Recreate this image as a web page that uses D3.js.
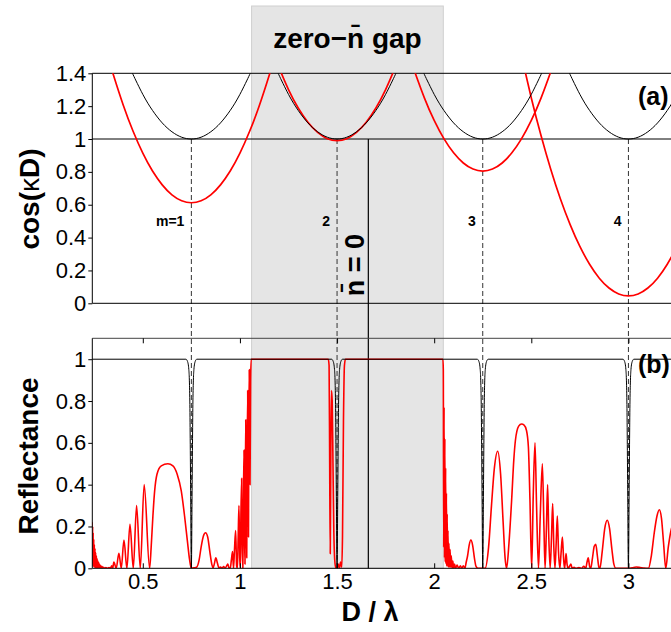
<!DOCTYPE html>
<html><head><meta charset="utf-8">
<script src="https://cdn.jsdelivr.net/npm/d3@7"></script>
<style>
body{margin:0;background:#fff}
svg{display:block}
text{font-family:"Liberation Sans",Arial,Helvetica,sans-serif}
</style>
</head><body>
<svg id="c" width="671" height="632"></svg>
<script>
// ---------------- data ----------------
const xTicks = [0.5, 1, 1.5, 2, 2.5, 3];
const cosTicks = [0, 0.2, 0.4, 0.6, 0.8, 1, 1.2, 1.4];
const refTicks = [0, 0.2, 0.4, 0.6, 0.8, 1];
const modeCenters = [0.75, 1.5, 2.25, 3.0];
const modeLabels = ["m=1", "2", "3", "4"];
const gapRange = [1.06, 2.047];
const nZero = 1.661;

// panel (a): cos(kD), black = reference stack, red = metamaterial stack
const cosBlack1 = [[0.44,1.419],[0.45,1.392],[0.5,1.272],[0.55,1.174],[0.6,1.098],[0.65,1.044],[0.7,1.011],[0.75,1.0],[0.8,1.011],[0.85,1.044],[0.9,1.098],[0.95,1.174],[1.0,1.272],[1.05,1.392],[1.06,1.419]];
const cosBlack2 = [[1.19,1.419],[1.2,1.392],[1.25,1.272],[1.3,1.174],[1.35,1.098],[1.4,1.044],[1.45,1.011],[1.5,1.0],[1.55,1.011],[1.6,1.044],[1.65,1.098],[1.7,1.174],[1.75,1.272],[1.8,1.392],[1.81,1.419]];
const cosBlack3 = [[1.94,1.419],[1.95,1.392],[2.0,1.272],[2.05,1.174],[2.1,1.098],[2.15,1.044],[2.2,1.011],[2.25,1.0],[2.3,1.011],[2.35,1.044],[2.4,1.098],[2.45,1.174],[2.5,1.272],[2.55,1.392],[2.56,1.419]];
const cosBlack4 = [[2.69,1.419],[2.7,1.392],[2.75,1.272],[2.8,1.174],[2.85,1.098],[2.9,1.044],[2.95,1.011],[3.0,1.0],[3.05,1.011],[3.1,1.044],[3.15,1.098],[3.2,1.174],[3.25,1.272],[3.3,1.392],[3.31,1.419]];

const cosRed1 = [[0.33,1.464],[0.35,1.385],[0.4,1.204],[0.45,1.047],[0.5,0.914],[0.55,0.805],[0.6,0.721],[0.65,0.660],[0.7,0.624],[0.75,0.612],[0.8,0.624],[0.85,0.660],[0.9,0.721],[0.95,0.805],[1.0,0.914],[1.05,1.047],[1.1,1.204],[1.15,1.385],[1.17,1.464]];
const cosRed2 = [[1.2,1.438],[1.25,1.301],[1.3,1.189],[1.35,1.102],[1.4,1.040],[1.45,1.002],[1.5,0.990],[1.55,1.002],[1.6,1.040],[1.65,1.102],[1.7,1.189],[1.75,1.301],[1.8,1.438]];
const cosRed3 = [[1.89,1.444],[1.9,1.409],[1.95,1.249],[2.0,1.113],[2.05,1.002],[2.1,0.916],[2.15,0.854],[2.2,0.817],[2.25,0.805],[2.3,0.817],[2.35,0.854],[2.4,0.916],[2.45,1.002],[2.5,1.113],[2.55,1.249],[2.6,1.409],[2.61,1.444]];
const cosRed4 = [[2.45,1.503],[2.5,1.25],[2.55,1.021],[2.6,0.816],[2.65,0.635],[2.7,0.479],[2.75,0.346],[2.8,0.238],[2.85,0.153],[2.9,0.093],[2.95,0.057],[3.0,0.045],[3.05,0.057],[3.1,0.093],[3.15,0.153],[3.2,0.238],[3.25,0.346],[3.3,0.479],[3.35,0.635],[3.37,0.705]];

// panel (b): reflectance
const refBlack = [[0.2394,1],[0.722,1],[0.73,0.99],[0.737,0.95],[0.742,0.8],[0.746,0.4],[0.75,0],[0.754,0.4],[0.758,0.8],[0.763,0.95],[0.77,0.99],[0.778,1],
  [1.472,1],[1.48,0.99],[1.487,0.95],[1.492,0.8],[1.496,0.4],[1.5,0],[1.504,0.4],[1.508,0.8],[1.513,0.95],[1.52,0.99],[1.528,1],
  [2.222,1],[2.23,0.99],[2.237,0.95],[2.242,0.8],[2.246,0.4],[2.25,0],[2.254,0.4],[2.258,0.8],[2.263,0.95],[2.27,0.99],[2.278,1],
  [2.972,1],[2.98,0.99],[2.987,0.95],[2.992,0.8],[2.996,0.4],[3.0,0],[3.004,0.4],[3.008,0.8],[3.013,0.95],[3.02,0.99],[3.028,1],[3.37,1]];

const refRed = [[0.2394,0.22],[0.2405,0.02],[0.2418,0.2],[0.243,0.01],[0.2445,0.17],[0.246,0.01],[0.2475,0.14],[0.249,0.005],[0.2505,0.115],[0.252,0.005],[0.2538,0.095],[0.2555,0.004],[0.2573,0.075],[0.259,0.003],[0.261,0.06],[0.263,0.003],[0.265,0.045],[0.267,0.002],[0.269,0.035],[0.271,0.002],[0.2735,0.026],[0.276,0.002],[0.2785,0.018],[0.281,0.001],[0.284,0.012],[0.287,0.001],[0.29,0.008],[0.294,0.001],[0.298,0.005],[0.303,0.001],[0.31,0.003],[0.318,0.0],[0.326,0.004],[0.333,0.0],[0.34,0.012],[0.345,0.0],
  [0.351,0.03],[0.363,0],[0.377,0.072],[0.389,0],[0.403,0.135],[0.418,0],[0.434,0.21],[0.451,0],[0.468,0.30],[0.487,0],[0.507,0.40],[0.535,0],
  [0.543,0.10],[0.552,0.25],[0.561,0.37],[0.573,0.45],[0.595,0.49],[0.629,0.50],[0.655,0.49],[0.677,0.45],[0.698,0.37],[0.715,0.25],[0.729,0.135],[0.741,0.04],[0.75,0],
  [0.765,0.002],[0.777,0.005],[0.79,0.04],[0.80,0.1],[0.812,0.155],[0.823,0.17],[0.834,0.15],[0.845,0.08],[0.855,0.02],[0.862,0.003],[0.868,0.02],[0.876,0.05],[0.884,0.025],[0.892,0.002],[0.9,0.006],[0.908,0.001],[0.916,0.008],[0.924,0.001],[0.932,0.012],[0.938,0.02],[0.944,0.001],[0.95,0.0],[0.956,0.04],[0.962,0.08],[0.967,0.0],[0.972,0.09],[0.978,0.18],[0.983,0.01],[0.987,0.0],[0.991,0.15],[0.995,0.30],[0.999,0.05],[1.002,0.0],[1.005,0.25],[1.009,0.43],[1.012,0.1],[1.015,0.0],[1.018,0.3],[1.021,0.565],[1.024,0.15],[1.026,0.02],[1.028,0.4],[1.030,0.71],[1.033,0.2],[1.035,0.05],[1.037,0.5],[1.040,0.85],[1.042,0.35],[1.044,0.15],[1.046,0.7],[1.048,0.95],[1.050,0.6],[1.052,0.4],[1.055,0.9],[1.058,1.0],
  [1.455,1.0],[1.459,0.97],[1.462,0.5],[1.465,0.07],[1.468,0.55],[1.471,0.85],[1.475,0.8],[1.479,0.5],[1.483,0.2],[1.488,0.04],[1.494,0.0],[1.5,0.0],[1.506,0.02],[1.512,0.0],[1.518,0.03],[1.524,0.005],[1.528,0.15],[1.533,0.7],[1.538,0.97],[1.543,1.0],
  [2.045,1.0],[2.047,0.95],[2.049,0.1],[2.051,0.77],[2.053,0.05],[2.055,0.62],[2.057,0.03],[2.059,0.48],[2.061,0.02],[2.063,0.36],[2.065,0.01],[2.067,0.26],[2.069,0.01],[2.071,0.18],[2.073,0.005],[2.076,0.12],[2.079,0.005],[2.082,0.09],[2.085,0.005],[2.088,0.06],[2.092,0.0],[2.096,0.035],[2.10,0.0],[2.105,0.02],[2.11,0.0],[2.118,0.015],[2.126,0.0],[2.135,0.012],[2.142,0.0],[2.15,0.012],[2.158,0.0],[2.165,0.03],[2.172,0.06],[2.18,0.11],[2.189,0.135],[2.198,0.11],[2.207,0.05],[2.215,0.01],[2.225,0.0],[2.262,0.0],
  [2.28,0.1],[2.295,0.3],[2.31,0.48],[2.327,0.56],[2.342,0.45],[2.355,0.22],[2.365,0.05],[2.373,0.0],[2.385,0.12],[2.399,0.33],[2.41,0.52],[2.418,0.61],[2.435,0.68],[2.45,0.69],[2.463,0.685],[2.475,0.66],[2.485,0.58],[2.493,0.33],[2.502,0.0],
  [2.51,0.35],[2.519,0.60],[2.527,0.3],[2.537,0.0],[2.546,0.25],[2.557,0.50],[2.565,0.2],[2.571,0],[2.578,0.2],[2.584,0.40],[2.59,0.15],[2.597,0],[2.604,0.15],[2.61,0.31],[2.616,0.1],[2.622,0],[2.628,0.12],[2.634,0.25],[2.64,0.08],[2.647,0],[2.653,0.07],[2.66,0.15],[2.666,0.05],[2.671,0],[2.675,0.03],[2.679,0.07],[2.684,0.02],[2.69,0],
  [2.697,0.01],[2.704,0.02],[2.71,0.0],[2.72,0.005],[2.73,0.0],[2.745,0.004],[2.76,0.0],[2.77,0.01],[2.78,0.0],[2.787,0.03],[2.793,0.05],[2.8,0.01],[2.806,0.0],[2.815,0.05],[2.824,0.105],[2.832,0.115],[2.84,0.06],[2.848,0.005],[2.853,0.0],
  [2.865,0.08],[2.878,0.19],[2.891,0.23],[2.903,0.19],[2.915,0.09],[2.925,0.02],[2.935,0.0],[3.0,0.0],[3.02,0.003],[3.04,0.006],[3.06,0.004],[3.08,0.001],[3.103,0.0],[3.118,0.06],[3.133,0.17],[3.147,0.25],[3.159,0.28],[3.17,0.24],[3.181,0.12],[3.192,0.0],[3.205,0.1],[3.219,0.18],[3.235,0.22],[3.25,0.2]];

// ---------------- drawing ----------------
const svg = d3.select("#c");
const L = 92.3, R = 700.3;
const x = d3.scaleLinear().domain([0.24, 3.37]).range([L, R]);
const yA = d3.scaleLinear().domain([0, 1.4]).range([303.3, 73.3]);
const yB = d3.scaleLinear().domain([0, 1.1]).range([568.3, 338.3]);
const font = '"Liberation Sans",Arial,Helvetica,sans-serif';

const defs = svg.append("defs");
defs.append("clipPath").attr("id","clipA").append("rect")
  .attr("x",L).attr("y",yA(1.4)).attr("width",R-L).attr("height",yA(0)-yA(1.4));
defs.append("clipPath").attr("id","clipB").append("rect")
  .attr("x",L).attr("y",yB(1.1)-1).attr("width",R-L).attr("height",yB(0)-yB(1.1)+1);

// gray gap band
svg.append("rect")
  .attr("x", x(gapRange[0])).attr("y", 6)
  .attr("width", x(gapRange[1]) - x(gapRange[0])).attr("height", yB(0) - 6)
  .attr("fill", "#e5e5e5").attr("stroke", "#cfcfcf").attr("stroke-width", 1);

svg.append("text").attr("x", (x(gapRange[0]) + x(gapRange[1]))/2).attr("y", 48)
  .attr("text-anchor","middle").attr("font-weight","bold").attr("font-size",28)
  .text("zero\u2212n\u0304 gap");

// dashed mode lines
modeCenters.forEach(m => {
  svg.append("line").attr("x1", x(m)).attr("x2", x(m))
    .attr("y1", yA(1)).attr("y2", yB(0))
    .attr("stroke", "#333").attr("stroke-width", 1).attr("stroke-dasharray", "5,3");
});
// n=0 line
svg.append("line").attr("x1", x(nZero)).attr("x2", x(nZero))
  .attr("y1", yA(1)).attr("y2", yB(0)).attr("stroke", "#000").attr("stroke-width", 1.2);

// panel a frame lines
const gA = svg.append("g");
gA.append("line").attr("x1",L).attr("x2",R).attr("y1",yA(1.4)).attr("y2",yA(1.4)).attr("stroke","#000");
gA.append("line").attr("x1",L).attr("x2",R).attr("y1",yA(0)).attr("y2",yA(0)).attr("stroke","#000");
gA.append("line").attr("x1",L).attr("x2",R).attr("y1",yA(1)).attr("y2",yA(1)).attr("stroke","#000");

const lineA = d3.line().x(d => x(d[0])).y(d => yA(d[1])).curve(d3.curveNatural);
const cA = svg.append("g").attr("clip-path","url(#clipA)");
[cosRed1, cosRed2, cosRed3, cosRed4].forEach(s =>
  cA.append("path").attr("d", lineA(s)).attr("fill","none").attr("stroke","#ff0000").attr("stroke-width",1.7));
[cosBlack1, cosBlack2, cosBlack3, cosBlack4].forEach(s =>
  cA.append("path").attr("d", lineA(s)).attr("fill","none").attr("stroke","#000").attr("stroke-width",1));

// panel b
const lineB = d3.line().x(d => x(d[0])).y(d => yB(d[1])).curve(d3.curveMonotoneX);
const cB = svg.append("g").attr("clip-path","url(#clipB)");
cB.append("path").attr("d", lineB(refRed)).attr("fill","none").attr("stroke","#ff0000").attr("stroke-width",1.6).attr("stroke-linejoin","round");
cB.append("path").attr("d", lineB(refBlack)).attr("fill","none").attr("stroke","#000").attr("stroke-width",1);

svg.append("line").attr("x1",L).attr("x2",R).attr("y1",yB(1.1)).attr("y2",yB(1.1)).attr("stroke","#444");
svg.append("line").attr("x1",L).attr("x2",R).attr("y1",yB(0)).attr("y2",yB(0)).attr("stroke","#000");

// axes
function styleAxis(g, fs){
  g.select(".domain").remove();
  g.selectAll("text").attr("font-size", fs).attr("font-family", font).attr("fill","#000");
  g.selectAll(".tick line").attr("stroke","#000");
}
const axA = svg.append("g").attr("transform",`translate(${L},0)`)
  .call(d3.axisLeft(yA).tickValues(cosTicks).tickSize(4).tickPadding(2).tickFormat(d3.format("~g")));
styleAxis(axA, 22);
svg.append("line").attr("x1",L).attr("x2",L).attr("y1",yA(1.4)).attr("y2",yA(0)).attr("stroke","#000");

const axB = svg.append("g").attr("transform",`translate(${L},0)`)
  .call(d3.axisLeft(yB).tickValues(refTicks).tickSize(4).tickPadding(2).tickFormat(d3.format("~g")));
styleAxis(axB, 22);
svg.append("line").attr("x1",L).attr("x2",L).attr("y1",yB(1.1)).attr("y2",yB(0)).attr("stroke","#000");

const axX = svg.append("g").attr("transform",`translate(0,${yB(0)})`)
  .call(d3.axisBottom(x).tickValues(xTicks).tickSize(-5).tickPadding(5).tickFormat(d3.format("~g")));
styleAxis(axX, 22);
const axXt = svg.append("g").attr("transform",`translate(0,${yB(1.1)})`)
  .call(d3.axisTop(x).tickValues(xTicks).tickSize(-5).tickFormat(""));
styleAxis(axXt, 22);

// mode labels
modeCenters.forEach((m,i) => {
  svg.append("text").attr("x", x(m) - 7).attr("y", 226).attr("text-anchor","end")
    .attr("font-weight","bold").attr("font-size",14).text(modeLabels[i]);
});

// n = 0 label
svg.append("text").attr("transform",`translate(${x(nZero)-4},265) rotate(-90)`)
  .attr("text-anchor","middle").attr("font-weight","bold").attr("font-size",27)
  .text("n\u0304 = 0");

// panel tags
svg.append("text").attr("x",638).attr("y",105).attr("font-weight","bold").attr("font-size",25).text("(a)");
svg.append("text").attr("x",638).attr("y",373).attr("font-weight","bold").attr("font-size",25).text("(b)");

// axis titles
const yt1 = svg.append("text").attr("transform","translate(39,199) rotate(-90)")
  .attr("text-anchor","middle").attr("font-weight","bold").attr("font-size",28);
yt1.append("tspan").text("cos(");
yt1.append("tspan").attr("font-weight","normal").text("\u03BA");
yt1.append("tspan").text("D)");
svg.append("text").attr("transform","translate(38,456) rotate(-90)")
  .attr("text-anchor","middle").attr("font-weight","bold").attr("font-size",28).text("Reflectance");
svg.append("text").attr("x",370).attr("y",621).attr("text-anchor","middle")
  .attr("font-weight","bold").attr("font-size",27).text("D / \u03BB");
</script>
</body></html>
